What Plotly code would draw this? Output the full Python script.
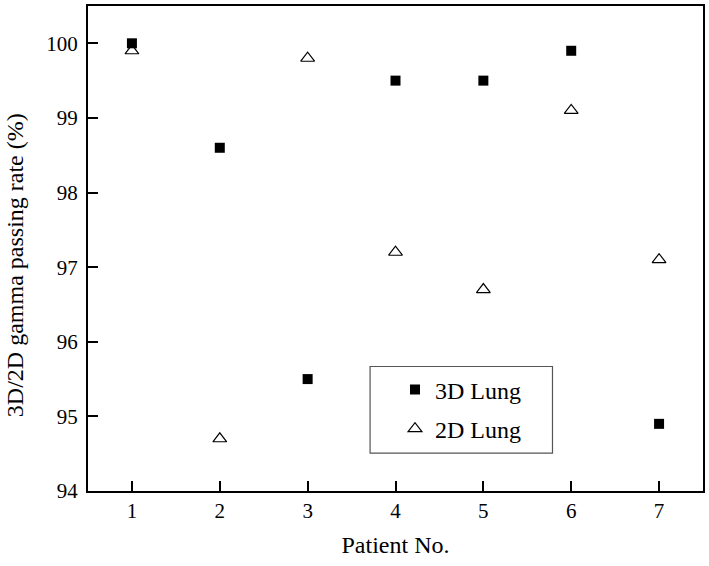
import plotly.graph_objects as go

patients = [1, 2, 3, 4, 5, 6, 7]
lung3d = [100.0, 98.6, 95.5, 99.5, 99.5, 99.9, 94.9]
lung2d = [99.9, 94.7, 99.8, 97.2, 96.7, 99.1, 97.1]
xticks = [1, 2, 3, 4, 5, 6, 7]
yticks = [94, 95, 96, 97, 98, 99, 100]

FONT = "Liberation Serif"

fig = go.Figure()
fig.add_trace(go.Scatter(x=patients, y=lung3d, mode="markers", name="3D Lung",
                         legendgroup="a",
                         marker=dict(symbol="square", size=10, color="black")))
fig.add_trace(go.Scatter(x=patients, y=lung2d, mode="markers", name="2D Lung",
                         legendgroup="b",
                         marker=dict(symbol="triangle-up-open", size=12, color="black",
                                     line=dict(width=1.2, color="black"))))

axis_common = dict(showline=True, linecolor="black", linewidth=2, mirror=True,
                   ticks="inside", ticklen=10, tickwidth=2, tickcolor="black",
                   showgrid=False, zeroline=False,
                   tickfont=dict(family=FONT, size=21, color="black"))

fig.update_layout(
    width=709, height=566,
    margin=dict(l=88, r=4, t=4, b=75),
    paper_bgcolor="white", plot_bgcolor="white",
    font=dict(family=FONT, size=21, color="black"),
    xaxis=dict(range=[0.5, 7.5], tickvals=xticks, ticklabelstandoff=0,
               title=dict(text="Patient No.", font=dict(family=FONT, size=24), standoff=14),
               **axis_common),
    yaxis=dict(range=[94, 100.5], tickvals=yticks, ticklabelstandoff=4,
               **axis_common),
    annotations=[dict(text="3D/2D gamma passing rate (%)", textangle=-90,
                      xref="paper", yref="paper",
                      x=(15 - 88) / 617, y=(491 - 264) / 487,
                      xanchor="center", yanchor="middle", showarrow=False,
                      font=dict(family=FONT, size=24, color="black"))],
    legend=dict(x=(396 - 88) / 617, y=0.255, xanchor="left", yanchor="top",
                bgcolor="rgba(0,0,0,0)", borderwidth=0,
                traceorder="grouped", tracegroupgap=5,
                font=dict(family=FONT, size=24, color="black")),
    shapes=[dict(type="rect", xref="paper", yref="paper",
                 x0=(371 - 88) / 617, x1=(554 - 88) / 617,
                 y0=(491 - 453) / 487, y1=(491 - 366) / 487,
                 line=dict(color="#555555", width=1.2), fillcolor="rgba(0,0,0,0)")],
)

fig.write_html("out.html", config={"displayModeBar": False},
               post_script="document.body.style.margin='0';")
